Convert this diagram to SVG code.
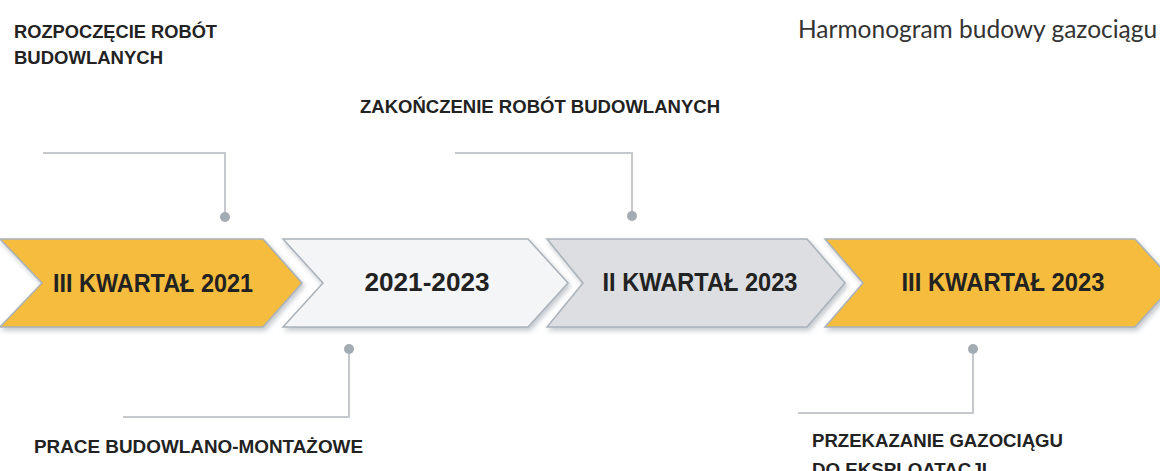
<svg xmlns="http://www.w3.org/2000/svg" width="1160" height="471" viewBox="0 0 1160 471">
<defs>
<filter id="sh" x="-5%" y="-10%" width="110%" height="130%">
<feDropShadow dx="2" dy="3" stdDeviation="2.5" flood-color="#7a8590" flood-opacity="0.45"/>
</filter>
</defs>
<style>
.chev{stroke:#a9b2ba;stroke-width:1.5;filter:url(#sh)}
.y{fill:#f5bc3c}
.w{fill:#f4f5f6}
.g{fill:#dcdee1}
.ct{font-family:"Liberation Sans",Arial,sans-serif;font-weight:bold;font-size:25px;fill:#222;text-anchor:middle}
.lb{font-family:"Liberation Sans",Arial,sans-serif;font-weight:bold;font-size:18.5px;fill:#222}
.ln{fill:none;stroke:#c5c9cd;stroke-width:2}
.dot{fill:#a3abb3}
.title{font-family:Lato,"Liberation Sans",sans-serif;font-size:24.5px;fill:#333}
</style>
<rect width="1160" height="471" fill="#ffffff"/>
<text class="title" x="798" y="38">Harmonogram budowy gazociągu</text>
<g id="connectors">
<polyline class="ln" points="43,153 225,153 225,217"/>
<circle class="dot" cx="225" cy="217" r="5"/>
<polyline class="ln" points="455,153 632,153 632,216"/>
<circle class="dot" cx="632" cy="216" r="5"/>
<polyline class="ln" points="123,417 349,417 349,349"/>
<circle class="dot" cx="349" cy="349" r="5"/>
<polyline class="ln" points="798,413 973,413 973,349"/>
<circle class="dot" cx="973" cy="349" r="5"/>
</g>
<g id="n1">
<polygon class="chev y" points="0,239 263,239 302,283 263,327 0,327 42,283"/>
<text class="ct" x="153" y="292" textLength="200" lengthAdjust="spacingAndGlyphs">III KWARTAŁ 2021</text>
</g>
<g id="n2">
<polygon class="chev w" points="283,239 528,239 568,283 528,327 283,327 323,283"/>
<text class="ct" x="427" y="291" textLength="125" lengthAdjust="spacingAndGlyphs">2021-2023</text>
</g>
<g id="n3">
<polygon class="chev g" points="547,239 807,239 845,283 807,327 547,327 583,283"/>
<text class="ct" x="700" y="291" textLength="195" lengthAdjust="spacingAndGlyphs">II KWARTAŁ 2023</text>
</g>
<g id="n4">
<polygon class="chev y" points="825,239 1135,239 1175,283 1135,327 825,327 863,283"/>
<text class="ct" x="1003" y="291" textLength="203" lengthAdjust="spacingAndGlyphs">III KWARTAŁ 2023</text>
</g>
<g id="l1">
<text class="lb" x="14" y="38" textLength="203" lengthAdjust="spacingAndGlyphs">ROZPOCZĘCIE ROBÓT</text>
<text class="lb" x="14" y="64" textLength="149" lengthAdjust="spacingAndGlyphs">BUDOWLANYCH</text>
</g>
<g id="l2">
<text class="lb" x="360" y="113" textLength="360" lengthAdjust="spacingAndGlyphs">ZAKOŃCZENIE ROBÓT BUDOWLANYCH</text>
</g>
<g id="l3">
<text class="lb" x="34" y="453" textLength="329" lengthAdjust="spacingAndGlyphs">PRACE BUDOWLANO-MONTAŻOWE</text>
</g>
<g id="l4">
<text class="lb" x="812" y="447" textLength="251" lengthAdjust="spacingAndGlyphs">PRZEKAZANIE GAZOCIĄGU</text>
<text class="lb" x="812" y="476" textLength="175" lengthAdjust="spacingAndGlyphs">DO EKSPLOATACJI</text>
</g>
</svg>
